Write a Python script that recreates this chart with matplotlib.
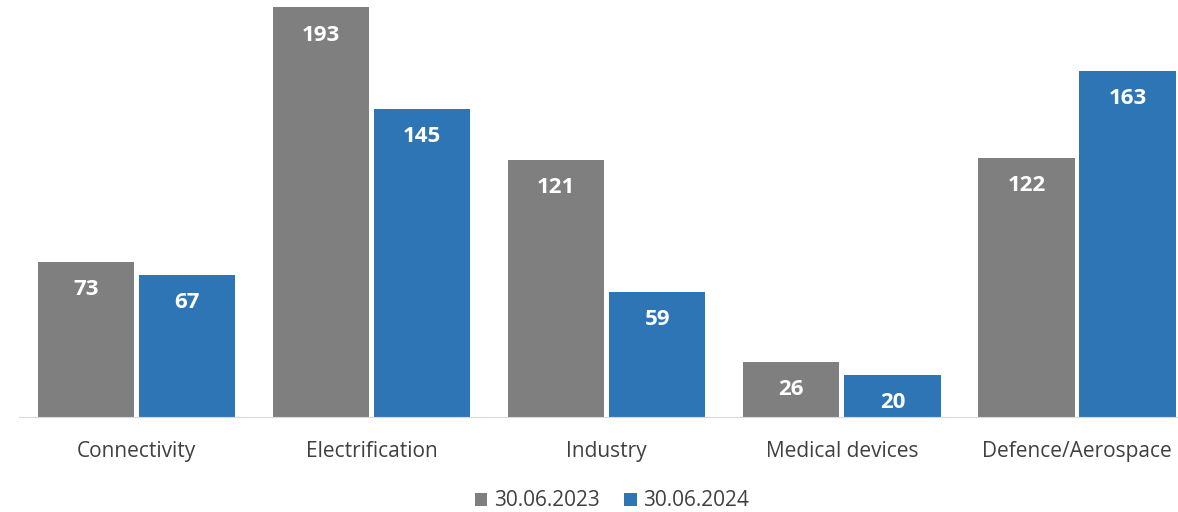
import matplotlib.pyplot as plt
import numpy as np

categories = ['Connectivity', 'Electrification', 'Industry', 'Medical devices', 'Defence/Aerospace']
values_2023 = [73, 193, 121, 26, 122]
values_2024 = [67, 145, 59, 20, 163]
series_labels = ['30.06.2023', '30.06.2024']

plt.rcParams['font.family'] = ['Open Sans', 'DejaVu Sans']

fig = plt.figure(figsize=(11.78, 5.12), dpi=100)
ax = fig.add_axes([19 / 1178, 95 / 512, 1175.5 / 1178, 417 / 512])

x = np.arange(len(categories))
w = 0.41
off = 0.215
b1 = ax.bar(x - off, values_2023, w, color='#7F7F7F', label=series_labels[0])
b2 = ax.bar(x + off, values_2024, w, color='#2E75B6', label=series_labels[1])

for bars in (b1, b2):
    for rect in bars:
        h = rect.get_height()
        ax.annotate(f'{h:.0f}', (rect.get_x() + rect.get_width() / 2, h),
                    xytext=(0, -28), textcoords='offset pixels',
                    ha='center', va='center', color='white',
                    fontsize=16, fontweight='bold')

ax.set_xlim(-0.5, 4.5)
ax.set_ylim(0, 196.3)
ax.set_xticks(x)
ax.set_xticklabels(categories, fontsize=15, color='#404040')
ax.tick_params(axis='x', length=0, pad=17)
ax.set_yticks([])
for s in ['top', 'left', 'right']:
    ax.spines[s].set_visible(False)
ax.spines['bottom'].set_color('#D9D9D9')

fig.legend(loc='center', bbox_to_anchor=(612 / 1178, 1 - 501 / 512), ncol=2,
           frameon=False, fontsize=15, handlelength=0.6, handleheight=0.6,
           handletextpad=0.3, columnspacing=1.2, labelcolor='#404040')

fig.savefig('out.png', dpi=100)
